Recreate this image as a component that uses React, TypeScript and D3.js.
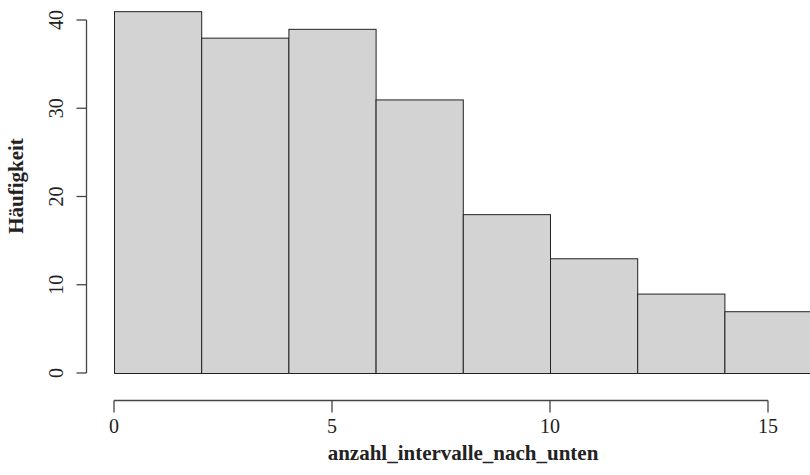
import { useEffect, useRef } from 'react';
import * as d3 from 'd3';

// histogram bins (lower edge, upper edge) and counts
const binEdges = [0, 2, 4, 6, 8, 10, 12, 14, 16];
const counts = [41, 38, 39, 31, 18, 13, 9, 7];
const xTicks = [0, 5, 10, 15];
const yTicks = [0, 10, 20, 30, 40];
const xTitle = 'anzahl_intervalle_nach_unten';
const yTitle = 'Häufigkeit';

const W = 810, H = 475;
const serif = "Liberation Serif, Tinos, Times New Roman, DejaVu Serif, serif";
const C = { bar: '#d3d3d3', edge: '#222', axis: '#444', text: '#222' };

export default function App() {
  const svgRef = useRef<SVGSVGElement | null>(null);

  useEffect(() => {
    const svg = d3.select(svgRef.current);
    svg.selectAll('*').remove();

    const x = d3.scaleLinear().domain([0, 15]).range([114, 768]);
    const y = d3.scaleLinear().domain([0, 40]).range([373, 20]);

    const bins = counts.map((c, i) => ({ x0: binEdges[i], x1: binEdges[i + 1], c }));

    // bars
    svg.append('g').selectAll('rect').data(bins).join('rect')
      .attr('x', d => x(d.x0) + 0.5).attr('y', d => y(d.c) + 0.5)
      .attr('width', d => x(d.x1) - x(d.x0)).attr('height', d => y(0) - y(d.c))
      .attr('fill', C.bar).attr('stroke', C.edge).attr('stroke-width', 1);

    // x axis, R style: line only from first to last tick
    const xa = svg.append('g');
    const ay = 400.5;
    xa.append('line').attr('x1', x(xTicks[0])).attr('x2', x(xTicks[xTicks.length - 1]))
      .attr('y1', ay).attr('y2', ay).attr('stroke', C.axis).attr('stroke-width', 1.3);
    xa.selectAll('.t').data(xTicks).join('line').attr('class', 't')
      .attr('x1', d => x(d)).attr('x2', d => x(d)).attr('y1', ay).attr('y2', ay + 12)
      .attr('stroke', C.axis).attr('stroke-width', 1.3);
    xa.selectAll('text').data(xTicks).join('text')
      .attr('x', d => x(d)).attr('y', 433).attr('text-anchor', 'middle')
      .style('font-family', serif).attr('font-size', 20).attr('fill', C.text).text(d => d);

    // y axis
    const ya = svg.append('g');
    const ax = 86.5;
    ya.append('line').attr('x1', ax).attr('x2', ax)
      .attr('y1', y(yTicks[0])).attr('y2', y(yTicks[yTicks.length - 1]))
      .attr('stroke', C.axis).attr('stroke-width', 1.3);
    ya.selectAll('.t').data(yTicks).join('line').attr('class', 't')
      .attr('x1', ax - 10).attr('x2', ax).attr('y1', d => y(d)).attr('y2', d => y(d))
      .attr('stroke', C.axis).attr('stroke-width', 1.3);
    ya.selectAll('text').data(yTicks).join('text')
      .attr('transform', d => `translate(63,${y(d)}) rotate(-90)`).attr('text-anchor', 'middle')
      .style('font-family', serif).attr('font-size', 20).attr('fill', C.text).text(d => d);

    // titles
    svg.append('text').attr('x', 463).attr('y', 460).attr('text-anchor', 'middle')
      .style('font-family', serif).attr('font-weight', 'bold').attr('font-size', 21)
      .attr('fill', C.text).text(xTitle);
    svg.append('text').attr('transform', `translate(23,186) rotate(-90)`).attr('text-anchor', 'middle')
      .style('font-family', serif).attr('font-weight', 'bold').attr('font-size', 21)
      .attr('fill', C.text).text(yTitle);
  }, []);

  return (
    <div style={{ position: 'fixed', left: 0, top: 0, width: W, height: H, background: '#fff' }}>
      <svg ref={svgRef} width={W} height={H} style={{ display: 'block' }} />
    </div>
  );
}
